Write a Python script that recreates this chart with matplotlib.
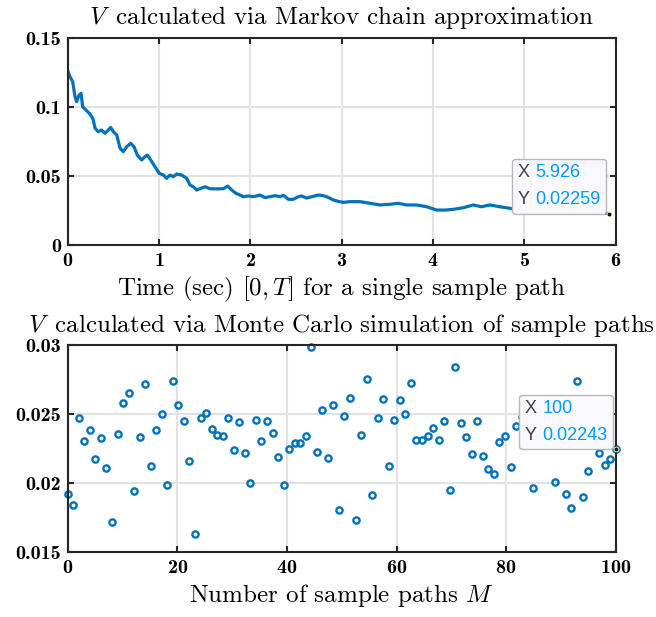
import matplotlib
matplotlib.use("Agg")
import matplotlib.pyplot as plt
import numpy as np
from matplotlib.offsetbox import TextArea, HPacker, VPacker, AnnotationBbox

# 数据：马尔可夫链近似（单条样本路径）
t_path = [0, 0.025, 0.055, 0.08, 0.098, 0.124, 0.146, 0.164, 0.2, 0.237,
          0.263, 0.28, 0.3, 0.335, 0.372, 0.408, 0.445, 0.47, 0.5, 0.537,
          0.573, 0.609, 0.646, 0.69, 0.726, 0.762, 0.81, 0.846, 0.872, 0.909,
          0.956, 1.003, 1.047, 1.084, 1.12, 1.156, 1.193, 1.248, 1.303, 1.339,
          1.375, 1.412, 1.449, 1.503, 1.558, 1.631, 1.704, 1.752, 1.796, 1.843,
          1.887, 1.923, 1.978, 2.032, 2.106, 2.16, 2.215, 2.27, 2.325, 2.361,
          2.416, 2.47, 2.525, 2.562, 2.617, 2.672, 2.744, 2.799, 2.853, 2.908,
          2.974, 3.018, 3.091, 3.2, 3.31, 3.42, 3.53, 3.62, 3.71, 3.82,
          3.93, 4.04, 4.13, 4.22, 4.33, 4.44, 4.53, 4.62, 4.73, 4.84,
          4.92, 5.0, 5.1, 5.2, 5.3, 5.4, 5.5, 5.6, 5.7, 5.8, 5.926]
v_path = [0.1261, 0.1217, 0.1181, 0.1072, 0.1036, 0.1085, 0.1097, 0.1000, 0.0976, 0.0952,
          0.0928, 0.0904, 0.0843, 0.0819, 0.0831, 0.0807, 0.0831, 0.0850, 0.0819, 0.0795,
          0.0699, 0.0674, 0.0710, 0.0735, 0.0710, 0.0650, 0.0614, 0.0638, 0.0650, 0.0614,
          0.0565, 0.0517, 0.0505, 0.0481, 0.0505, 0.0493, 0.0512, 0.0505, 0.0481, 0.0433,
          0.0420, 0.0396, 0.0406, 0.0420, 0.0406, 0.0404, 0.0406, 0.0425, 0.0396, 0.0372,
          0.0360, 0.0348, 0.0353, 0.0348, 0.0360, 0.0341, 0.0348, 0.0355, 0.0348, 0.0358,
          0.0329, 0.0329, 0.0348, 0.0353, 0.0338, 0.0348, 0.0360, 0.0355, 0.0343, 0.0324,
          0.0312, 0.0307, 0.0312, 0.0312, 0.0300, 0.0288, 0.0293, 0.0300, 0.0288, 0.0288,
          0.0275, 0.0251, 0.0251, 0.0256, 0.0268, 0.0288, 0.0275, 0.0288, 0.0275, 0.0264,
          0.0251, 0.0250, 0.0252, 0.0248, 0.0245, 0.0243, 0.0240, 0.0238, 0.0238, 0.0232, 0.02259]

# 数据：蒙特卡洛模拟
M = np.linspace(0, 100, 100)
v_mc = [0.01917, 0.01839, 0.0247, 0.02306, 0.02385, 0.02173, 0.02323, 0.02107, 0.01718, 0.02352,
        0.02577, 0.02652, 0.01943, 0.02335, 0.02719, 0.0212, 0.02383, 0.02497, 0.01986, 0.02741,
        0.02562, 0.0245, 0.0216, 0.01628, 0.02468, 0.02504, 0.02388, 0.02349, 0.02342, 0.02473,
        0.02236, 0.02441, 0.02219, 0.01999, 0.02454, 0.02303, 0.0245, 0.02361, 0.02185, 0.01982,
        0.02248, 0.02291, 0.02289, 0.0234, 0.02983, 0.02221, 0.02528, 0.0218, 0.02562, 0.01805,
        0.02485, 0.02615, 0.0173, 0.02349, 0.02751, 0.01914, 0.0247, 0.02606, 0.02122, 0.02458,
        0.02599, 0.02501, 0.02726, 0.02313, 0.0231, 0.0234, 0.02398, 0.0231, 0.02446, 0.01946,
        0.0284, 0.02434, 0.02335, 0.02211, 0.0245, 0.02197, 0.02102, 0.02062, 0.02298, 0.02342,
        0.02112, 0.02412, 0.0248, 0.0252, 0.01962, 0.0245, 0.0238, 0.0260, 0.02008, 0.0232,
        0.01921, 0.01819, 0.02737, 0.01897, 0.02083, 0.0249, 0.02219, 0.02131, 0.02173, 0.02243]

top_xticks = [0, 1, 2, 3, 4, 5, 6]
top_yticks = [0, 0.05, 0.1, 0.15]
top_ylabels = ['0', '0.05', '0.1', '0.15']
bot_xticks = [0, 20, 40, 60, 80, 100]
bot_yticks = [0.015, 0.02, 0.025, 0.03]
bot_ylabels = ['0.015', '0.02', '0.025', '0.03']

'''字体设置'''
plt.rcParams['font.family'] = 'serif'
plt.rcParams['font.serif'] = ['cmr10']
plt.rcParams['mathtext.fontset'] = 'cm'
plt.rcParams['axes.formatter.use_mathtext'] = True

blue = '#0072BD'
tip_blue = '#0099FF'


def style_axes(ax):
    for s in ax.spines.values():
        s.set_linewidth(1.5)
        s.set_color('#262626')
    ax.grid(True, color='#e2e2e2', linewidth=1.5)
    ax.set_axisbelow(True)
    ax.tick_params(direction='in', top=True, right=True, length=4, width=1.5,
                   color='#262626', labelsize=14.5, labelfontfamily='cmb10', pad=5)


def datatip(ax, x, y, xs, ys):
    tp = dict(fontsize=13, family='Liberation Sans')
    row1 = HPacker(children=[TextArea('X', textprops=dict(color='#404040', **tp)),
                             TextArea(xs, textprops=dict(color=tip_blue, **tp))],
                   sep=4, pad=0, align='baseline')
    row2 = HPacker(children=[TextArea('Y', textprops=dict(color='#404040', **tp)),
                             TextArea(ys, textprops=dict(color=tip_blue, **tp))],
                   sep=4, pad=0, align='baseline')
    box = VPacker(children=[row1, row2], sep=7, pad=0, align='left')
    ab = AnnotationBbox(box, (x, y), xybox=(-6, 4), xycoords='data',
                        boxcoords='offset points', box_alignment=(1, 0),
                        frameon=True, pad=0.4,
                        bboxprops=dict(boxstyle='round,pad=0.4,rounding_size=0.25',
                                       fc='#f9f9fd', ec='#b8b8b8', lw=1))
    ax.add_artist(ab)
    ax.plot([x], [y], 'o', color='#111111', ms=3.5, mec='#fffbd0', mew=0.6,
            zorder=6, clip_on=False)


fig = plt.figure(figsize=(6.56, 6.17), dpi=100)

'''上图'''
ax1 = fig.add_axes([0.1032, 0.6034, 0.8354, 0.3355])
ax1.plot(t_path, v_path, color=blue, linewidth=2.3)
ax1.set_xlim(0, 6)
ax1.set_ylim(0, 0.15)
ax1.set_xticks(top_xticks)
ax1.set_yticks(top_yticks)
ax1.set_yticklabels(top_ylabels)
style_axes(ax1)
ax1.set_title(r'$V\,$ calculated via Markov chain approximation', fontsize=18, pad=10)
ax1.set_xlabel(r'Time (sec) $[0,T]$ for a single sample path', fontsize=18, labelpad=4)
datatip(ax1, t_path[-1], v_path[-1], '5.926', '0.02259')

'''下图'''
ax2 = fig.add_axes([0.1032, 0.1058, 0.8354, 0.335])
ax2.plot(M, v_mc, 'o', mfc='none', mec=blue, ms=4.5, mew=1.7, clip_on=False)
ax2.set_xlim(0, 100)
ax2.set_ylim(0.015, 0.03)
ax2.set_xticks(bot_xticks)
ax2.set_yticks(bot_yticks)
ax2.set_yticklabels(bot_ylabels)
style_axes(ax2)
ax2.set_title(r'$V\,$ calculated via Monte Carlo simulation of sample paths', fontsize=18, pad=9.5)
ax2.set_xlabel(r'Number of sample paths $M$', fontsize=18, labelpad=4)
datatip(ax2, M[-1], v_mc[-1], '100', '0.02243')

fig.savefig('out.png', dpi=100)
